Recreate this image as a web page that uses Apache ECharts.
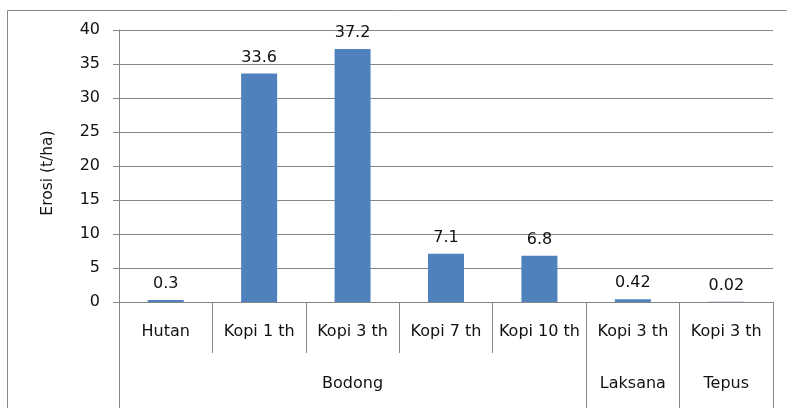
<!DOCTYPE html>
<html>
<head>
<meta charset="utf-8">
<script src="https://cdn.jsdelivr.net/npm/echarts@6/dist/echarts.min.js"></script>
<style>
  html, body { margin: 0; padding: 0; background: #fff; }
  #chart { width: 787px; height: 408px; }
</style>
</head>
<body>
<div id="chart"></div>
<script>
// Land use categories (first level) and location groups (second level)
const landUse = ['Hutan', 'Kopi 1 th', 'Kopi 3 th', 'Kopi 7 th', 'Kopi 10 th', 'Kopi 3 th', 'Kopi 3 th'];
const locationLabels = ['', '', 'Bodong', '', '', 'Laksana', 'Tepus'];
// category indices where a location group starts
const groupStarts = [0, 5, 6];
// Erosion values (t/ha)
const erosion = [0.3, 33.6, 37.2, 7.1, 6.8, 0.42, 0.02];
const yTicks = { min: 0, max: 40, interval: 5 };

const fontFamily = '"DejaVu Sans", Verdana, sans-serif';
const axisGray = '#868686';
const textColor = '#111';

const chart = echarts.init(document.getElementById('chart'), null, { renderer: 'canvas' });
chart.setOption({
  animation: false,
  backgroundColor: '#fff',
  grid: { left: 119, right: 14, top: 30, bottom: 106, containLabel: false },
  graphic: [{
    type: 'rect',
    shape: { x: 7.5, y: 10.5, width: 800, height: 420 },
    style: { fill: 'none', stroke: '#8a8a8a', lineWidth: 1 },
    silent: true
  }],
  xAxis: [
    {
      type: 'category',
      data: landUse,
      position: 'bottom',
      axisLine: { show: true, lineStyle: { color: axisGray } },
      axisTick: { show: true, interval: 0, length: 51, lineStyle: { color: axisGray } },
      axisLabel: { interval: 0, color: textColor, fontSize: 16, fontFamily: fontFamily, margin: 22 },
      splitLine: { show: false }
    },
    {
      type: 'category',
      data: locationLabels,
      position: 'bottom',
      axisLine: { show: false },
      axisTick: {
        show: true,
        length: 110,
        interval: function (index) { return groupStarts.indexOf(index) >= 0; },
        lineStyle: { color: axisGray }
      },
      axisLabel: { interval: 0, color: textColor, fontSize: 16, fontFamily: fontFamily, margin: 74 },
      splitLine: { show: false }
    }
  ],
  yAxis: {
    type: 'value',
    min: yTicks.min,
    max: yTicks.max,
    interval: yTicks.interval,
    name: 'Erosi (t/ha)',
    nameLocation: 'middle',
    nameGap: 63,
    nameRotate: 90,
    nameTextStyle: { color: textColor, fontSize: 15.5, fontFamily: fontFamily, padding: [0, 14, 0, 0] },
    axisLine: { show: true, lineStyle: { color: axisGray } },
    axisTick: { show: true, length: 6, lineStyle: { color: axisGray } },
    axisLabel: { color: textColor, fontSize: 16, fontFamily: fontFamily, margin: 19 },
    splitLine: { show: true, lineStyle: { color: axisGray, width: 1 } }
  },
  series: [{
    type: 'bar',
    data: erosion,
    barWidth: 36,
    itemStyle: { color: '#4F81BD' },
    label: {
      show: true,
      position: 'top',
      distance: 8,
      color: textColor,
      fontSize: 16,
      fontFamily: fontFamily
    }
  }]
});
</script>
</body>
</html>
